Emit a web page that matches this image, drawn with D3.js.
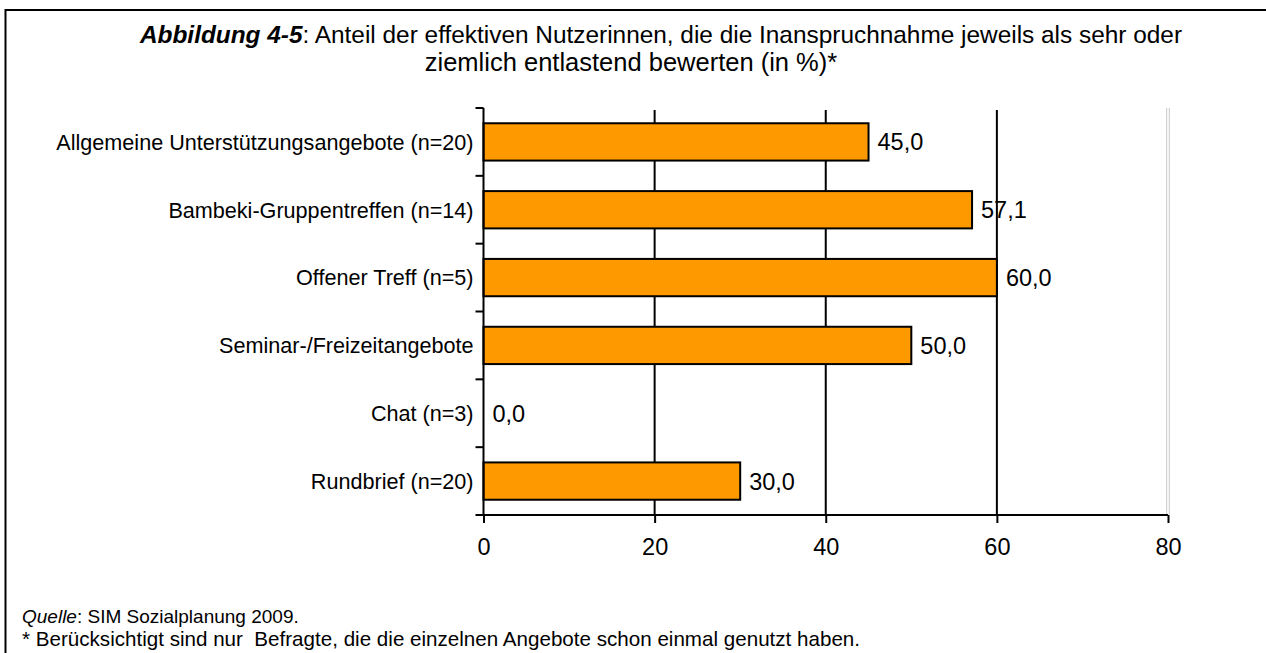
<!DOCTYPE html>
<html>
<head>
<meta charset="utf-8">
<script src="https://cdn.jsdelivr.net/npm/d3@7"></script>
<style>
  body { margin: 0; background: #fff; }
  svg { display: block; font-family: "Liberation Sans", Arial, sans-serif; }
  text { white-space: pre; }
</style>
</head>
<body>
<div id="figure"></div>
<script>
// data
const categories = [
  "Allgemeine Unterstützungsangebote (n=20)",
  "Bambeki-Gruppentreffen (n=14)",
  "Offener Treff (n=5)",
  "Seminar-/Freizeitangebote",
  "Chat (n=3)",
  "Rundbrief (n=20)"
];
const values = [45.0, 57.1, 60.0, 50.0, 0.0, 30.0];
const xTicks = [0, 20, 40, 60, 80];
const gridValues = [20, 40, 60];

const titleLine1 = ["Abbildung 4-5", ": Anteil der effektiven Nutzerinnen, die die Inanspruchnahme jeweils als sehr oder"];
const titleLine2 = "ziemlich entlastend bewerten (in %)*";
const sourceLine = ["Quelle", ": SIM Sozialplanung 2009."];
const noteLine = "* Berücksichtigt sind nur  Befragte, die die einzelnen Angebote schon einmal genutzt haben.";

const W = 1266, H = 653;
const plot = {left: 483.5, right: 1168, top: 108, bottom: 515};

var de = d3.formatLocale({decimal: ",", thousands: ".", grouping: [3], currency: ["", " €"]});
var fmt = de.format(".1f");

var svg = d3.select("#figure")
  .append("svg")
    .attr("width", W)
    .attr("height", H);

// frame round the figure (right and bottom run off the page)
svg.append("path")
  .attr("d", "M5.5," + H + " V10 H" + W)
  .attr("fill", "none")
  .attr("stroke", "#000")
  .attr("stroke-width", 2);

// title
var t1 = svg.append("text")
  .attr("x", 661)
  .attr("y", 43)
  .attr("text-anchor", "middle")
  .style("font-size", "24.4px");
t1.append("tspan").attr("font-weight", "bold").attr("font-style", "italic").text(titleLine1[0]);
t1.append("tspan").text(titleLine1[1]);

svg.append("text")
  .attr("x", 631)
  .attr("y", 71)
  .attr("text-anchor", "middle")
  .style("font-size", "25.5px")
  .text(titleLine2);

// scales
var x = d3.scaleLinear()
  .domain([0, 80])
  .range([plot.left, plot.right]);

var y = d3.scaleBand()
  .domain(categories)
  .range([plot.top, plot.bottom])
  .paddingInner(0.45)
  .paddingOuter(0.225);

// grid lines
svg.append("g")
  .selectAll("line")
  .data(gridValues)
  .enter()
  .append("line")
    .attr("x1", function(d) { return x(d); })
    .attr("x2", function(d) { return x(d); })
    .attr("y1", plot.top + 2)
    .attr("y2", plot.bottom)
    .attr("stroke", "#000")
    .attr("stroke-width", 2);

// light double line at the right end of the plot area
svg.append("g")
  .selectAll("line")
  .data([-1.3, 1.3])
  .enter()
  .append("line")
    .attr("x1", function(d) { return x(80) + d; })
    .attr("x2", function(d) { return x(80) + d; })
    .attr("y1", plot.top)
    .attr("y2", plot.bottom)
    .attr("stroke", "#c8c8c8")
    .attr("stroke-width", 1);

// bars
svg.append("g")
  .selectAll("rect")
  .data(values)
  .enter()
  .append("rect")
    .attr("x", x(0))
    .attr("y", function(d, i) { return y(categories[i]); })
    .attr("width", function(d) { return x(d) - x(0); })
    .attr("height", y.bandwidth())
    .attr("fill", "#ff9900")
    .attr("stroke", "#000")
    .attr("stroke-width", 2);

// value labels
svg.append("g")
  .selectAll("text")
  .data(values)
  .enter()
  .append("text")
    .attr("x", function(d) { return x(d) + 9; })
    .attr("y", function(d, i) { return y(categories[i]) + y.bandwidth() / 2; })
    .attr("dy", "0.36em")
    .style("font-size", "23.5px")
    .text(function(d) { return fmt(d); });

// x axis
var xAxis = svg.append("g")
  .attr("transform", "translate(0," + plot.bottom + ")")
  .call(d3.axisBottom(x).tickValues(xTicks).tickSize(8).tickSizeOuter(0).tickPadding(15));
xAxis.select(".domain")
  .attr("d", "M476,0 H" + plot.right)
  .attr("stroke-width", 2);
xAxis.selectAll(".tick line").attr("stroke-width", 2);
xAxis.selectAll("text")
  .style("font-size", "23.5px")
  .style("font-family", "Liberation Sans, Arial, sans-serif")
  .attr("fill", "#000");

// y axis, ticks sit between the categories
var yAxis = svg.append("g")
  .attr("transform", "translate(" + plot.left + ",0)");
yAxis.append("line")
  .attr("y1", plot.top)
  .attr("y2", plot.bottom)
  .attr("stroke", "#000")
  .attr("stroke-width", 2);
yAxis.selectAll(".ytick")
  .data(d3.range(categories.length + 1))
  .enter()
  .append("line")
    .attr("class", "ytick")
    .attr("x1", -8)
    .attr("x2", 0)
    .attr("y1", function(i) { return plot.top + i * y.step() ; })
    .attr("y2", function(i) { return plot.top + i * y.step() ; })
    .attr("stroke", "#000")
    .attr("stroke-width", 2);
yAxis.selectAll(".ylabel")
  .data(categories)
  .enter()
  .append("text")
    .attr("class", "ylabel")
    .attr("x", -10)
    .attr("y", function(d) { return y(d) + y.bandwidth() / 2; })
    .attr("dy", "0.36em")
    .attr("text-anchor", "end")
    .style("font-size", "21.6px")
    .text(function(d) { return d; });

// source and footnote
var src = svg.append("text")
  .attr("x", 22)
  .attr("y", 623)
  .style("font-size", "19px");
src.append("tspan").attr("font-style", "italic").text(sourceLine[0]);
src.append("tspan").text(sourceLine[1]);

svg.append("text")
  .attr("x", 22)
  .attr("y", 646)
  .style("font-size", "20.6px")
  .text(noteLine);
</script>
</body>
</html>
